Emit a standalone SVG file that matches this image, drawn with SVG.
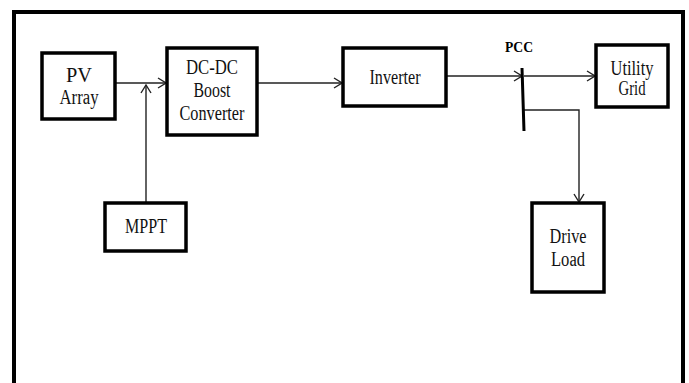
<svg xmlns="http://www.w3.org/2000/svg" width="689" height="383" viewBox="0 0 689 383">
<style>
.box{fill:#fff;stroke:#000;stroke-width:3.5}
.lbl{font-family:"Liberation Serif","Times New Roman",serif;font-size:20px;fill:#111;text-anchor:middle}
.pcc{font-family:"Liberation Serif","Times New Roman",serif;font-size:14px;font-weight:bold;fill:#000;text-anchor:middle}
.wire{fill:none;stroke:#222;stroke-width:1.4}
</style>
<defs>
<marker id="arr" viewBox="0 0 10 12" refX="9" refY="6" markerWidth="10" markerHeight="12" markerUnits="userSpaceOnUse" orient="auto">
<path d="M1,1 L9,6 L1,11" fill="none" stroke="#222" stroke-width="1.4"/>
</marker>
</defs>
<rect x="0" y="0" width="689" height="383" fill="#fff"/>
<rect id="frame" x="14" y="12" width="669" height="400" fill="none" stroke="#000" stroke-width="4"/>
<g id="connectors">
<line class="wire" x1="115" y1="83" x2="166" y2="83" marker-end="url(#arr)"/>
<line class="wire" x1="257" y1="83" x2="342" y2="83" marker-end="url(#arr)"/>
<line class="wire" x1="146" y1="203" x2="146" y2="85" marker-end="url(#arr)"/>
<line class="wire" x1="446" y1="76" x2="522" y2="76" marker-end="url(#arr)"/>
<line class="wire" x1="524" y1="76" x2="595" y2="76" marker-end="url(#arr)"/>
<polyline class="wire" points="524,110 579,110 579,202" marker-end="url(#arr)"/>
<line id="pcc-bar" x1="522" y1="68" x2="524" y2="131" stroke="#000" stroke-width="3"/>
</g>
<text class="pcc" x="519" y="52" textLength="28" lengthAdjust="spacingAndGlyphs">PCC</text>
<g id="pv">
<rect class="box" x="42" y="53" width="73" height="66"/>
<text class="lbl" x="79" y="82" textLength="26" lengthAdjust="spacingAndGlyphs">PV</text>
<text class="lbl" x="79" y="104" textLength="39" lengthAdjust="spacingAndGlyphs">Array</text>
</g>
<g id="dcdc">
<rect class="box" x="167" y="48" width="90" height="87"/>
<text class="lbl" x="212" y="74" textLength="52" lengthAdjust="spacingAndGlyphs">DC-DC</text>
<text class="lbl" x="212" y="97" textLength="37" lengthAdjust="spacingAndGlyphs">Boost</text>
<text class="lbl" x="212" y="120" textLength="65" lengthAdjust="spacingAndGlyphs">Converter</text>
</g>
<g id="inverter">
<rect class="box" x="343" y="48" width="103" height="58"/>
<text class="lbl" x="395" y="84" textLength="51" lengthAdjust="spacingAndGlyphs">Inverter</text>
</g>
<g id="grid">
<rect class="box" x="596" y="45" width="72" height="62"/>
<text class="lbl" x="632" y="75" textLength="43" lengthAdjust="spacingAndGlyphs">Utility</text>
<text class="lbl" x="632" y="95" textLength="27" lengthAdjust="spacingAndGlyphs">Grid</text>
</g>
<g id="mppt">
<rect class="box" x="105" y="203" width="81" height="48"/>
<text class="lbl" x="146" y="233" textLength="42" lengthAdjust="spacingAndGlyphs">MPPT</text>
</g>
<g id="load">
<rect class="box" x="532" y="203" width="72" height="89"/>
<text class="lbl" x="568" y="243" textLength="37" lengthAdjust="spacingAndGlyphs">Drive</text>
<text class="lbl" x="568" y="266" textLength="34" lengthAdjust="spacingAndGlyphs">Load</text>
</g>
</svg>
